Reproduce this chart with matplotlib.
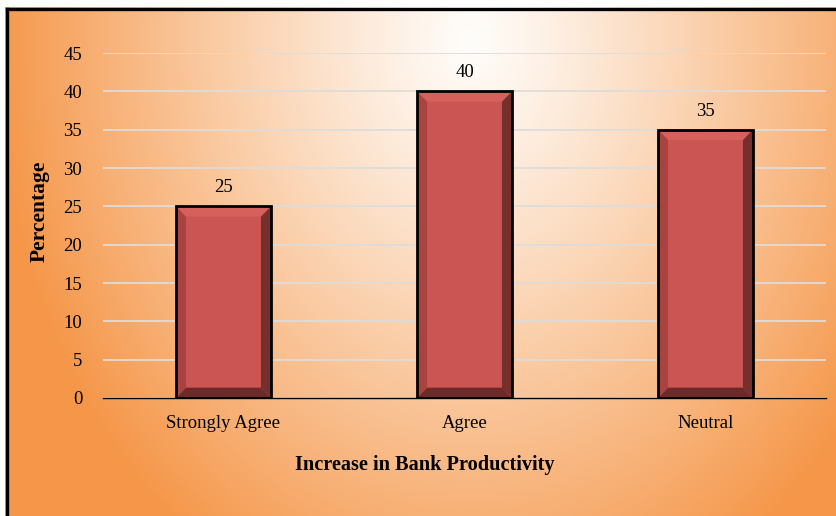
import numpy as np
import matplotlib
matplotlib.use("Agg")
import matplotlib.pyplot as plt
from matplotlib.patches import Polygon
from matplotlib.lines import Line2D

categories = ["Strongly Agree", "Agree", "Neutral"]
values = [25, 40, 35]
yticks = [0, 5, 10, 15, 20, 25, 30, 35, 40, 45]

plt.rcParams['font.family'] = ['Liberation Serif', 'DejaVu Serif']

W, H = 836, 516
fig = plt.figure(figsize=(W / 100, H / 100), dpi=100)

# radial orange background
bg = fig.add_axes([0, 0, 1, 1], zorder=-10)
yy, xx = np.mgrid[0:H, 0:W]
t = np.sqrt(((xx - 470) / 480.0) ** 2 + ((yy - 40) / 620.0) ** 2)
t = np.clip(t, 0, 1) ** 1.15
c0 = np.array([255, 253, 250]) / 255.0
c1 = np.array([245, 150, 72]) / 255.0
img = c0[None, None, :] * (1 - t[..., None]) + c1[None, None, :] * t[..., None]
img[:7, :, :] = 1.0
img[:, :5, :] = 1.0
bg.imshow(img, extent=[0, W, H, 0], aspect='auto')
bg.set_xlim(0, W)
bg.set_ylim(H, 0)
bg.axis('off')
bg.add_line(Line2D([7, W], [9, 9], color='black', lw=2.4))
bg.add_line(Line2D([7, 7], [9, H], color='black', lw=2.4))

ax = fig.add_axes([103 / W, 1 - 398 / H, (826 - 103) / W, (398 - 53) / H])
ax.patch.set_alpha(0)
x = np.arange(len(categories))
bw = 0.395
ax.set_xlim(-0.5, 2.5)
ax.set_ylim(0, 45)
ax.set_yticks(yticks)
ax.set_xticks(x)
ax.set_xticklabels(categories, fontsize=13.5)
ax.tick_params(axis='y', labelsize=13.5, length=0, pad=15)
ax.tick_params(axis='x', length=0, pad=12)
for s in ['top', 'right', 'left']:
    ax.spines[s].set_visible(False)
ax.spines['bottom'].set_color('black')
ax.spines['bottom'].set_linewidth(1.0)
ax.spines['bottom'].set_zorder(1)
ax.yaxis.grid(True, color='#DEDCDA', linewidth=1.3)
ax.set_axisbelow(True)

face = '#CB5552'
ax.bar(x, values, width=bw, color=face, zorder=2)
dx, dy = 0.042, 1.35
for xi, h in zip(x, values):
    x0, x1 = xi - bw / 2, xi + bw / 2
    polys = [
        ([(x0, h), (x1, h), (x1 - dx, h - dy), (x0 + dx, h - dy)], '#D6605C'),
        ([(x0, 0), (x1, 0), (x1 - dx, dy), (x0 + dx, dy)], '#6C2B29'),
        ([(x0, 0), (x0, h), (x0 + dx, h - dy), (x0 + dx, dy)], '#A9433F'),
        ([(x1, 0), (x1, h), (x1 - dx, h - dy), (x1 - dx, dy)], '#75302E'),
    ]
    for pts, col in polys:
        ax.add_patch(Polygon(pts, closed=True, facecolor=col, edgecolor='none', zorder=3))
    ax.text(xi, h + 1.3, str(h), ha='center', va='bottom', fontsize=13.5)
ax.bar(x, values, width=bw, fill=False, edgecolor='black', linewidth=2, zorder=4)

fig.text(40 / W, 1 - 211 / H, "Percentage", rotation=90, ha='center', va='center',
         fontsize=15.5, fontweight='bold')
fig.text(425 / W, 1 - 465 / H, "Increase in Bank Productivity", ha='center', va='center',
         fontsize=14.6, fontweight='bold')

fig.savefig("out.png", dpi=100)
